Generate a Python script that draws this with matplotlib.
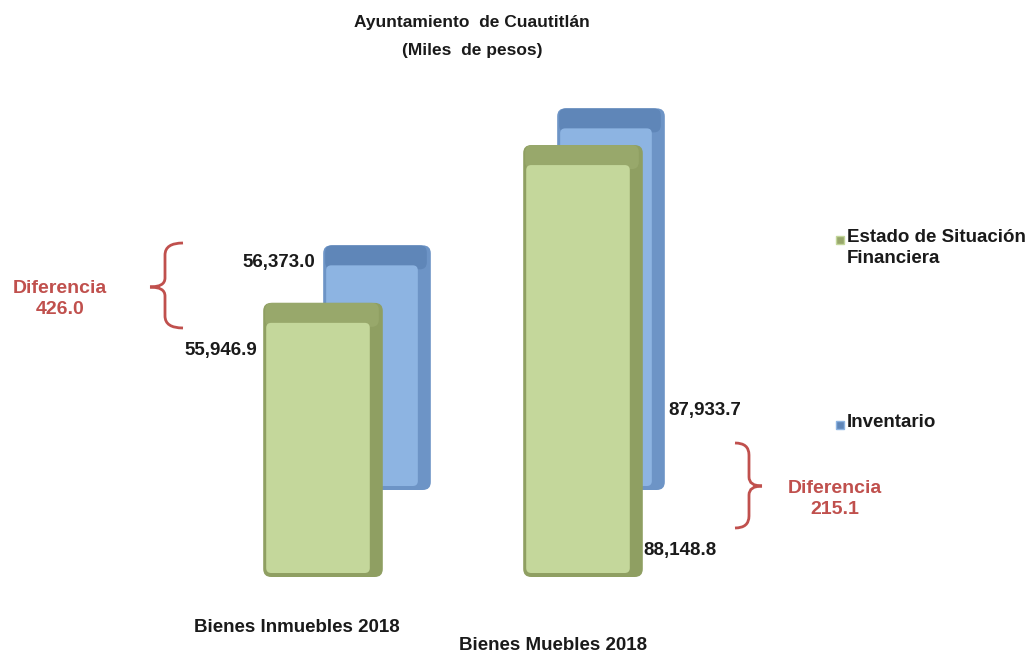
import matplotlib
matplotlib.use("Agg")
import matplotlib.pyplot as plt
from matplotlib.patches import FancyBboxPatch, PathPatch
from matplotlib.path import Path
from matplotlib.transforms import Affine2D

# data
categories = ["Bienes Inmuebles 2018", "Bienes Muebles 2018"]
estado = [55946.9, 88148.8]
inventario = [56373.0, 87933.7]
diferencias = [426.0, 215.1]
series = ["Estado de Situación\nFinanciera", "Inventario"]

W, H = 1031, 654
fig = plt.figure(figsize=(W / 100, H / 100), dpi=100)
fig.patch.set_facecolor("white")

# pixel coords measured from the top-left corner
pix = Affine2D().scale(1 / W, -1 / H).translate(0, 1) + fig.transFigure

BOLD = ["Liberation Sans", "DejaVu Sans"]
RED = "#c0504d"

YMAX = 100000


def px_axes(left, baseline, width, height, z):
    ax = fig.add_axes([left / W, (H - baseline) / H, width / W, height / H])
    ax.set_xlim(-0.5, len(categories) - 0.5)
    ax.set_ylim(0, YMAX)
    ax.axis("off")
    ax.patch.set_alpha(0)
    ax.set_zorder(z)
    return ax, width, height


def draw_bars(ax, wpx, hpx, values, face, top, side):
    dx = (len(categories)) / wpx
    dy = YMAX / hpx
    asp = dy / dx
    bars = ax.bar(range(len(values)), values, width=0.46, color=face)
    for b in bars:
        x0, y0, w, h = b.get_x(), b.get_y(), b.get_width(), b.get_height()
        b.remove()
        body = FancyBboxPatch((x0, y0), w, h,
                              boxstyle=f"round,pad=0,rounding_size={8 * dx}",
                              mutation_aspect=asp, fc=side, ec="none")
        cap = FancyBboxPatch((x0 + 2 * dx, y0 + h - 24 * dy), w - 6 * dx, 24 * dy,
                             boxstyle=f"round,pad=0,rounding_size={7 * dx}",
                             mutation_aspect=asp, fc=top, ec="none")
        front = FancyBboxPatch((x0 + 3 * dx, y0 + 4 * dy), w - 16 * dx, h - 24 * dy,
                               boxstyle=f"round,pad=0,rounding_size={5 * dx}",
                               mutation_aspect=asp, fc=face, ec="none")
        for p in (body, cap, front):
            ax.add_patch(p)


# back row (Inventario) and front row (Estado de Situacion Financiera)
ax_back, wb, hb = px_axes(260, 490, 468, 434, 1)
draw_bars(ax_back, wb, hb, inventario, "#8db4e2", "#5f86b8", "#6d94c6")
ax_front, wf, hf = px_axes(193, 577, 520, 490, 2)
draw_bars(ax_front, wf, hf, estado, "#c4d79b", "#98a86b", "#8f9f62")

# value labels
lab = dict(fontsize=13.5, fontweight="bold", family=BOLD, color="#1a1a1a",
           transform=pix, va="center")
fig.text(315, 262, f"{inventario[0]:,.1f}", ha="right", **lab)
fig.text(257, 350, f"{estado[0]:,.1f}", ha="right", **lab)
fig.text(668, 410, f"{inventario[1]:,.1f}", ha="left", **lab)
fig.text(643, 551, f"{estado[1]:,.1f}", ha="left", **lab)

# category labels
cat = dict(fontsize=13.5, fontweight="bold", family=BOLD, color="#1a1a1a",
           transform=pix, ha="center", va="center")
fig.text(297, 628, categories[0], **cat)
fig.text(553, 645, categories[1], **cat)

# title
ttl = dict(fontsize=12.5, fontweight="bold", family=BOLD, color="#1a1a1a",
           transform=pix, ha="center", va="center")
fig.text(472, 22, "Ayuntamiento  de Cuautitlán", **ttl)
fig.text(472, 50, "(Miles  de pesos)", **ttl)

# legend
leg = dict(fontsize=13.5, fontweight="bold", family=BOLD, color="#1a1a1a",
           transform=pix, ha="left", va="top", linespacing=1.3)
fig.text(847, 229, series[0], **leg)
fig.text(847, 414, series[1], **leg)
fig.lines.append(plt.Line2D([840], [240], transform=pix, marker="s", ms=5.5,
                            mfc="#98a86b", mec="#c4d79b", ls="none"))
fig.lines.append(plt.Line2D([840], [425], transform=pix, marker="s", ms=5.5,
                            mfc="#5f86b8", mec="#8db4e2", ls="none"))


# braces for the differences
def brace(xv, xe, xt, y0, ym, y1):
    verts = [(xe, y0), (xv, y0), (xv, y0 + 12), (xv, ym - 9), (xv, ym), (xt, ym),
             (xt, ym), (xv, ym), (xv, ym + 9), (xv, y1 - 12), (xv, y1), (xe, y1)]
    codes = [Path.MOVETO, Path.CURVE3, Path.CURVE3, Path.LINETO, Path.CURVE3, Path.CURVE3,
             Path.MOVETO, Path.CURVE3, Path.CURVE3, Path.LINETO, Path.CURVE3, Path.CURVE3]
    fig.patches.append(PathPatch(Path(verts, codes), transform=pix, fc="none",
                                 ec=RED, lw=2))


brace(165, 183, 150, 243, 287, 328)
brace(749, 735, 762, 443, 486, 528)

dif = dict(fontsize=14, fontweight="bold", family=BOLD, color=RED,
           transform=pix, ha="center", va="center", linespacing=1.35)
fig.text(60, 299, f"Diferencia\n{diferencias[0]:,.1f}", **dif)
fig.text(835, 499, f"Diferencia\n{diferencias[1]:,.1f}", **dif)

fig.savefig("out.png", dpi=100)
